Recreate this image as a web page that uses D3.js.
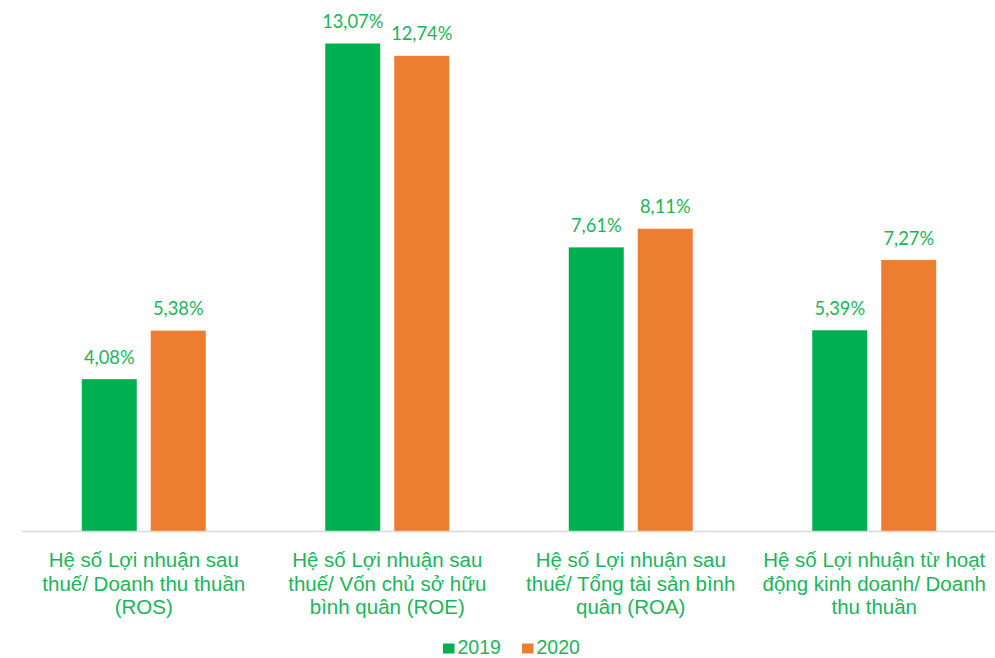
<!DOCTYPE html>
<html><head><meta charset="utf-8">
<script src="https://cdn.jsdelivr.net/npm/d3@7"></script>
<style>body{margin:0;background:#fff}svg{display:block}</style>
</head><body>
<script>
const categories = [
  ["Hệ số Lợi nhuận sau", "thuế/ Doanh thu thuần", "(ROS)"],
  ["Hệ số Lợi nhuận sau", "thuế/ Vốn chủ sở hữu", "bình quân (ROE)"],
  ["Hệ số Lợi nhuận sau", "thuế/ Tổng tài sản bình", "quân (ROA)"],
  ["Hệ số Lợi nhuận từ hoạt", "động kinh doanh/ Doanh", "thu thuần"]
];
const seriesNames = ["2019", "2020"];
const values2019 = [4.08, 13.07, 7.61, 5.39];
const values2020 = [5.38, 12.74, 8.11, 7.27];
const colors = ["#00b050", "#ed7d31"];
const textColor = "#1cb45a";

const W = 995, H = 658;
const svg = d3.select("body").append("svg").attr("width", W).attr("height", H);
const left = 22, right = 996, base = 531.5;
const x = d3.scaleBand().domain(d3.range(categories.length)).range([left, right]).paddingInner(0).paddingOuter(0);
const y = d3.scaleLinear().domain([0, 13.07]).range([base, 43.5]);
const barW = 55, gap = 14;
const series = [values2019, values2020];

series.forEach((vals, si) => {
  const g = svg.append("g");
  vals.forEach((v, i) => {
    const cx = x(i) + x.bandwidth() / 2;
    const bx = si === 0 ? cx - gap / 2 - barW : cx + gap / 2;
    g.append("rect").attr("x", bx).attr("y", y(v)).attr("width", barW).attr("height", base - y(v))
      .attr("fill", colors[si]);
    g.append("text").attr("x", bx + barW / 2).attr("y", y(v) - 15.5)
      .attr("text-anchor", "middle").attr("fill", textColor)
      .style("font-family", "Lato, 'Open Sans', sans-serif").style("font-size", "18.3px")
      .text(v.toFixed(2).replace(".", ",") + "%");
  });
});

svg.append("line").attr("x1", left).attr("x2", right).attr("y1", base).attr("y2", base)
  .attr("stroke", "#d9d9d9").attr("stroke-width", 1.5);

categories.forEach((lines, i) => {
  const cx = x(i) + x.bandwidth() / 2;
  const t = svg.append("text").attr("text-anchor", "middle").attr("fill", textColor)
    .style("font-family", "'Liberation Sans', Arial, sans-serif").style("font-size", "20.5px");
  lines.forEach((l, j) => t.append("tspan").attr("x", cx).attr("y", 567 + j * 23.5).text(l));
});

const legend = svg.append("g");
const legX = [443, 522];
seriesNames.forEach((n, i) => {
  legend.append("rect").attr("x", legX[i]).attr("y", 643.5).attr("width", 11.5).attr("height", 10).attr("fill", colors[i]);
  legend.append("text").attr("x", legX[i] + 14.5).attr("y", 653.5).attr("fill", textColor)
    .style("font-family", "'Liberation Sans', Arial, sans-serif").style("font-size", "19.5px").text(n);
});
</script>
</body></html>
